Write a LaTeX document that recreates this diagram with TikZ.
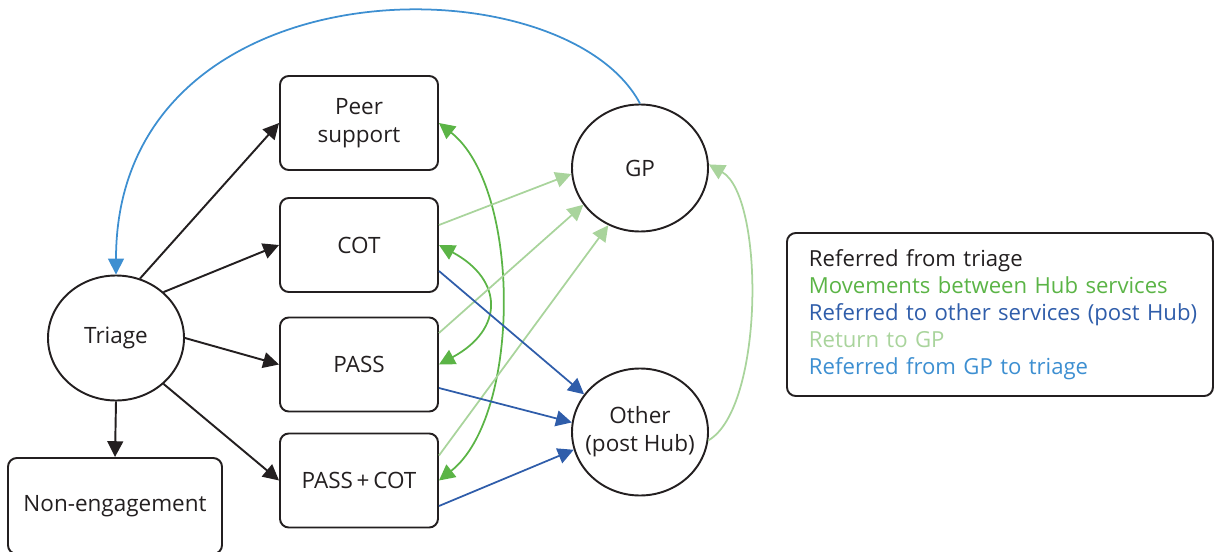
\documentclass[tikz,border=0pt]{standalone}
\usepackage{fontspec}
\setmainfont{Open Sans}
\usepackage{xcolor}
\usetikzlibrary{arrows.meta, calc, positioning, shapes}

\definecolor{refblack}{RGB}{35,31,32}
\definecolor{hubgreen}{RGB}{91,180,70}
\definecolor{postblue}{RGB}{47,93,170}
\definecolor{gpgreen}{RGB}{169,212,156}
\definecolor{gpblue}{RGB}{61,143,209}

\begin{document}
\begin{tikzpicture}[
    >={Triangle[length=9pt, width=9pt]},
    every node/.style={font=\fontsize{12.8}{16}\selectfont, text=refblack},
    service/.style={draw=refblack, line width=1.1pt, rounded corners=5pt, minimum width=3.16cm, minimum height=1.88cm, align=center},
    hub/.style={draw=refblack, line width=1.1pt, ellipse, minimum width=2.72cm, minimum height=2.5cm, align=center},
    referral/.style={->, draw=refblack, line width=1.1pt},
    move/.style={<->, draw=hubgreen, line width=1pt},
    togp/.style={->, draw=gpgreen, line width=1pt},
    post/.style={->, draw=postblue, line width=1pt},
    fromgp/.style={->, draw=gpblue, line width=1pt}]
    \useasboundingbox (0,0) rectangle (24.28,11.02);

    % Triage and non-engagement
    \node[hub] (tri) at (2.32,4.26) {Triage};
    \node[service, minimum width=4.28cm, minimum height=1.92cm] (noneng) at (2.30,0.90) {Non-engagement};

    % Hub services
    \node[service] (peer) at (7.18,8.56) {Peer\\support};
    \node[service] (cot) at (7.18,6.12) {COT};
    \node[service] (pass) at (7.18,3.73) {PASS};
    \node[service] (passcot) at (7.18,1.41) {PASS\,+\,COT};

    % GP and other services
    \node[hub, minimum height=2.54cm] (gp) at (12.8,7.66) {GP};
    \node[hub, minimum height=2.54cm, label={[align=center]center:Other\\(post Hub)}] (oth) at (12.8,2.38) {};

    % Key
    \node[draw=refblack, line width=1.1pt, rounded corners=5pt, anchor=west, text width=7.64cm, minimum height=3.26cm,
          inner xsep=0.44cm, align=left, font=\fontsize{12.6}{15.4}\selectfont] (key) at (15.72,4.73) {%
        Referred from triage\\
        {\color{hubgreen}Movements between Hub services}\\
        \mbox{\color{postblue}Referred to other services (post Hub)}\\
        {\color{gpgreen}Return to GP}\\
        {\color{gpblue}Referred from GP to triage}};

    % Referred from triage
    \draw[referral] (tri.68) -- (peer.west);
    \draw[referral] (tri.44) -- (cot.west);
    \draw[referral] (tri.east) -- (pass.west);
    \draw[referral] (tri.-44) -- (passcot.west);
    \draw[referral] (tri.south) -- (noneng.north);

    % Movements between Hub services
    \draw[move] (cot.east) .. controls +(1.3,-0.7) and +(1.3,0.7) .. (pass.east);
    \draw[move] (peer.east) .. controls +(1.65,-1.3) and +(1.65,1.3) .. (passcot.east);

    % Return to GP
    \draw[togp] ($(cot.east)+(0,0.4)$) -- (gp.185);
    \draw[togp] ($(pass.east)+(0,0.63)$) -- (gp.213);
    \draw[togp] ($(passcot.east)+(0,0.5)$) -- (gp.241);
    \draw[togp] (oth.-7) to[out=30, in=-30, looseness=0.6] (gp.3);

    % Referred to other services (post Hub)
    \draw[post] ($(cot.east)+(0,-0.52)$) -- (oth.146);
    \draw[post] ($(pass.east)+(0,-0.47)$) -- (oth.172);
    \draw[post] ($(passcot.east)+(0,-0.51)$) -- (oth.195);

    % Referred from GP to triage
    \draw[fromgp] (gp.north) .. controls +(-1.54,2.9) and +(0,6.3) .. (tri.north);
\end{tikzpicture}
\end{document}
